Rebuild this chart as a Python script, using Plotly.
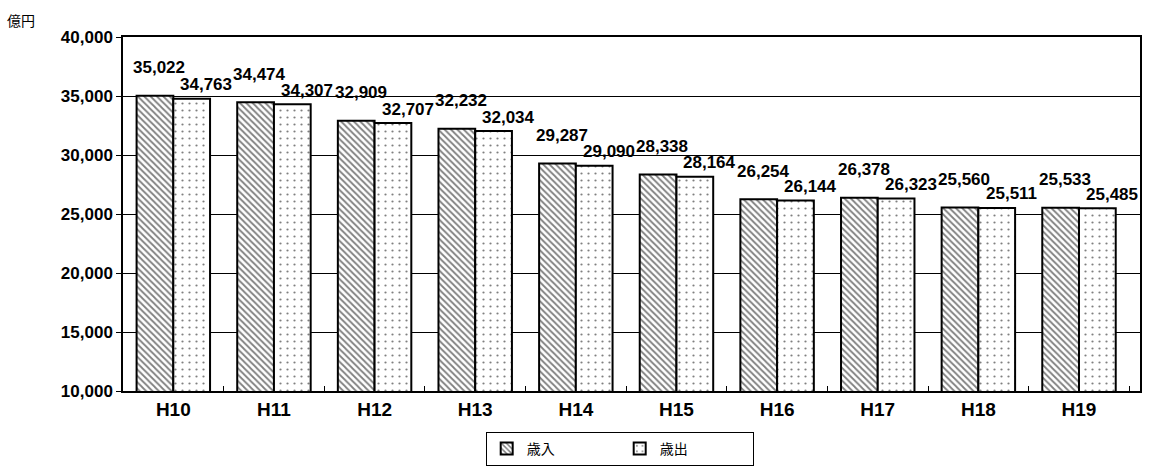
import plotly.graph_objects as go

# Fiscal years and totals (億円)
years = ["H10", "H11", "H12", "H13", "H14", "H15", "H16", "H17", "H18", "H19"]
revenue = [35022, 34474, 32909, 32232, 29287, 28338, 26254, 26378, 25560, 25533]      # 歳入
expenditure = [34763, 34307, 32707, 32034, 29090, 28164, 26144, 26323, 25511, 25485]  # 歳出

FONT = "Liberation Sans"
LABEL_FONT = dict(family=FONT, size=17, color="black")

fig = go.Figure()
fig.add_trace(go.Bar(
    name="歳入", x=years, y=revenue,
    marker=dict(color="white", line=dict(color="black", width=2),
                pattern=dict(shape="\\", fgcolor="black", bgcolor="white",
                             size=4.5, solidity=0.4)),
))
fig.add_trace(go.Bar(
    name="歳出", x=years, y=expenditure,
    marker=dict(color="white", line=dict(color="black", width=2),
                pattern=dict(shape=".", fgcolor="black", bgcolor="white",
                             size=7, solidity=0.08)),
))

# Value labels above each bar
for yr, v in zip(years, revenue):
    fig.add_annotation(x=yr, y=v, text=f"<b>{v:,}</b>", showarrow=False,
                       xshift=-14, yshift=28, font=LABEL_FONT)
for yr, v in zip(years, expenditure):
    fig.add_annotation(x=yr, y=v, text=f"<b>{v:,}</b>", showarrow=False,
                       xshift=33, yshift=14, font=LABEL_FONT)

# Unit label
fig.add_annotation(xref="paper", yref="paper", x=-0.1, y=1.048,
                   xanchor="center", yanchor="middle", text="億円",
                   showarrow=False,
                   font=dict(family="Noto Sans CJK JP", size=14, color="black"))

fig.update_layout(
    width=1154, height=468,
    margin=dict(l=123, r=14, t=37, b=77),
    paper_bgcolor="white", plot_bgcolor="white",
    barmode="group", bargap=0.27, bargroupgap=0,
    showlegend=True,
    legend=dict(orientation="h", xref="container", yref="container",
                x=0.537, xanchor="center", y=0.077, yanchor="top",
                bordercolor="black", borderwidth=1, bgcolor="white",
                itemwidth=30, entrywidth=88, entrywidthmode="pixels",
                font=dict(family="Noto Sans CJK JP", size=14, color="black")),
)
fig.update_yaxes(
    range=[10000, 40000], dtick=5000, tickformat=",",
    showgrid=True, gridcolor="black", gridwidth=1,
    showline=True, linecolor="black", linewidth=1.5, mirror=True,
    ticks="outside", ticklen=5, tickcolor="black",
    tickfont=dict(family=FONT, size=17, color="black"),
    tickprefix="<b>", ticksuffix="</b>", zeroline=False,
)
fig.update_xaxes(
    showline=True, linecolor="black", linewidth=1.5, mirror=True,
    ticks="inside", tickson="boundaries", ticklen=5, tickcolor="black",
    tickfont=dict(family=FONT, size=19, color="black"),
    tickprefix="<b>", ticksuffix="</b>",
)

fig.write_html("out.html")
